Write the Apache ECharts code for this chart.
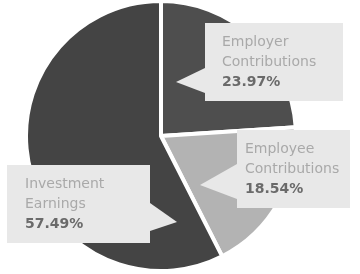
<!DOCTYPE html>
<html lang="en">
<head>
    <meta charset="UTF-8">
    <title>Retirement fund sources</title>
    <script src="https://cdn.jsdelivr.net/npm/echarts@6/dist/echarts.min.js"></script>
</head>
<body style="margin: 0; background: #fff;">
    <div id="main" style="width: 360px; height: 274px;"></div>
<script>
    // data
    var categories = ['Employer Contributions', 'Employee Contributions', 'Investment Earnings'];
    var values = [23.97, 18.54, 57.49];

    var sliceColors = ['#4e4e4e', '#b3b3b3', '#444444'];
    var boxColor = '#e8e8e8';
    // callout boxes: top-left corner, box width, speech-bubble pointer
    var boxes = [
        { x: 205, y: 23, w: 138, padLeft: 17, pointer: [[205, 68], [176, 82], [205, 93]] },
        { x: 237, y: 130, w: 113, padLeft: 8, pointer: [[237, 164], [200, 185], [237, 199]] },
        { x: 7, y: 165, w: 143, padLeft: 18, pointer: [[150, 203], [177, 222], [150, 231]] }
    ];

    var myChart = echarts.init(document.getElementById('main'));

    var data = categories.map(function (name, i) {
        var b = boxes[i];
        return {
            name: name,
            value: values[i],
            itemStyle: { color: sliceColors[i] },
            label: {
                width: b.w - b.padLeft - 6,
                padding: [9, 6, 9, b.padLeft]
            }
        };
    });

    var option = {
        animation: false,
        graphic: boxes.map(function (b) {
            return {
                type: 'polygon',
                z: 5,
                shape: { points: b.pointer },
                style: { fill: boxColor }
            };
        }),
        series: [{
            type: 'pie',
            center: [161, 136],
            radius: 135,
            startAngle: 90,
            clockwise: true,
            itemStyle: {
                borderColor: '#ffffff',
                borderWidth: 4
            },
            label: {
                show: true,
                position: 'outside',
                backgroundColor: boxColor,
                fontFamily: 'DejaVu Sans',
                overflow: 'truncate',
                formatter: function (p) {
                    var parts = p.name.split(' ');
                    return '{n|' + parts[0] + '}\n{n|' + parts.slice(1).join(' ') + '}\n{p|' + p.value.toFixed(2) + '%}';
                },
                rich: {
                    n: { fontSize: 14, lineHeight: 20, color: '#a9a9a9', fontFamily: 'DejaVu Sans' },
                    p: { fontSize: 14, lineHeight: 20, color: '#6a6a6a', fontWeight: 'bold', fontFamily: 'DejaVu Sans' }
                }
            },
            labelLine: { show: false },
            labelLayout: function (params) {
                var b = boxes[params.dataIndex];
                return {
                    x: b.x,
                    y: b.y,
                    align: 'left',
                    verticalAlign: 'top'
                };
            },
            data: data
        }]
    };
    myChart.setOption(option);
</script>
</body>
</html>
